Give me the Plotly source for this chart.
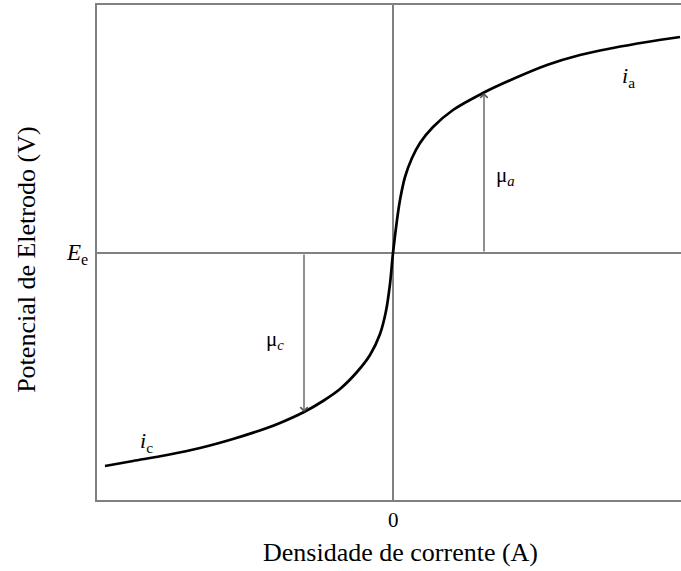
"""
Curva de polarizacao (Butler-Volmer) - potencial x densidade de corrente
"""
import plotly.graph_objects as go

# ---------- Data ----------
current_density = [-2.88, -2.60, -2.26, -1.93, -1.60, -1.26, -1.13, -0.89, -0.70, -0.53,
                   -0.36, -0.23, -0.13, -0.07, -0.03, 0.0,
                   0.04, 0.07, 0.12, 0.19, 0.27, 0.40, 0.60, 0.90, 1.20, 1.54,
                   1.87, 2.20, 2.54, 2.87]
electrode_potential = [-2.13, -2.08, -2.02, -1.95, -1.86, -1.75, -1.70, -1.59, -1.48, -1.36,
                       -1.19, -1.02, -0.81, -0.58, -0.31, 0.0,
                       0.33, 0.53, 0.76, 0.95, 1.10, 1.26, 1.43, 1.60, 1.74, 1.88,
                       1.98, 2.05, 2.11, 2.16]

# overpotential arrows: (current, potential on the curve)
mu_a_point = (0.91, 1.60)
mu_c_point = (-0.89, -1.59)

SERIF = "Liberation Serif"
GRAY = "#808080"

fig = go.Figure()

# reference lines at i = 0 and E = Ee
fig.add_shape(type="line", xref="x", yref="paper", x0=0, x1=0, y0=0, y1=1,
              line=dict(color=GRAY, width=2), layer="below")
fig.add_shape(type="line", xref="paper", yref="y", x0=0, x1=1, y0=0, y1=0,
              line=dict(color=GRAY, width=2), layer="below")

fig.add_trace(go.Scatter(
    x=current_density, y=electrode_potential,
    mode="lines",
    line=dict(color="black", width=2.7, shape="spline", smoothing=1.0),
    hoverinfo="skip",
    showlegend=False,
))

# overpotential arrows
for (xc, yc) in (mu_a_point, mu_c_point):
    fig.add_annotation(
        x=xc, y=yc, ax=xc, ay=0,
        xref="x", yref="y", axref="x", ayref="y",
        text="", showarrow=True,
        arrowhead=4, arrowsize=1.1, arrowwidth=1.3, arrowcolor="#555555",
        standoff=0, startstandoff=0,
    )

# ---------- Labels ----------
# inside the plot (data coords)
inner_labels = [
    dict(x=2.35, y=1.76, text="<i>i</i><sub>a</sub>", size=22),
    dict(x=-2.47, y=-1.89, text="<i>i</i><sub>c</sub>", size=22),
    dict(x=1.12, y=0.77, text="μ<sub><i>a</i></sub>", size=21),
    dict(x=-1.18, y=-0.87, text="μ<sub><i>c</i></sub>", size=21),
]
for lab in inner_labels:
    fig.add_annotation(
        x=lab["x"], y=lab["y"], xref="x", yref="y",
        text=lab["text"], showarrow=False,
        xanchor="center", yanchor="middle",
        font=dict(family=SERIF, size=lab["size"], color="black"),
    )

# outside the plot (paper coords)
outer_labels = [
    dict(x=-0.012, y=0.497, text="<i>E</i><sub>e</sub>", size=23, xanchor="right", angle=0),
    dict(x=0.507, y=-0.040, text="0", size=21, xanchor="center", angle=0),
    dict(x=0.5205, y=-0.107, text="Densidade de corrente (A)", size=26, xanchor="center", angle=0),
    dict(x=-0.120, y=0.485, text="Potencial de Eletrodo (V)", size=26, xanchor="center", angle=-90),
]
for lab in outer_labels:
    fig.add_annotation(
        x=lab["x"], y=lab["y"], xref="paper", yref="paper",
        text=lab["text"], showarrow=False, textangle=lab["angle"],
        xanchor=lab["xanchor"], yanchor="middle",
        font=dict(family=SERIF, size=lab["size"], color="black"),
    )

fig.update_layout(
    width=681, height=571,
    margin=dict(l=97, r=0, t=5, b=71),
    plot_bgcolor="white",
    paper_bgcolor="white",
    xaxis=dict(range=[-2.96, 2.88], showgrid=False, zeroline=False,
               showticklabels=False, ticks="",
               showline=True, mirror=True, linecolor=GRAY, linewidth=2),
    yaxis=dict(range=[-2.47, 2.48], showgrid=False, zeroline=False,
               showticklabels=False, ticks="",
               showline=True, linecolor=GRAY, linewidth=2),
)

# drop the browser's default page margin so the figure sits at (0, 0)
fig.write_html("out.html", config={"displayModeBar": False},
               post_script="document.body.style.margin = '0';")
